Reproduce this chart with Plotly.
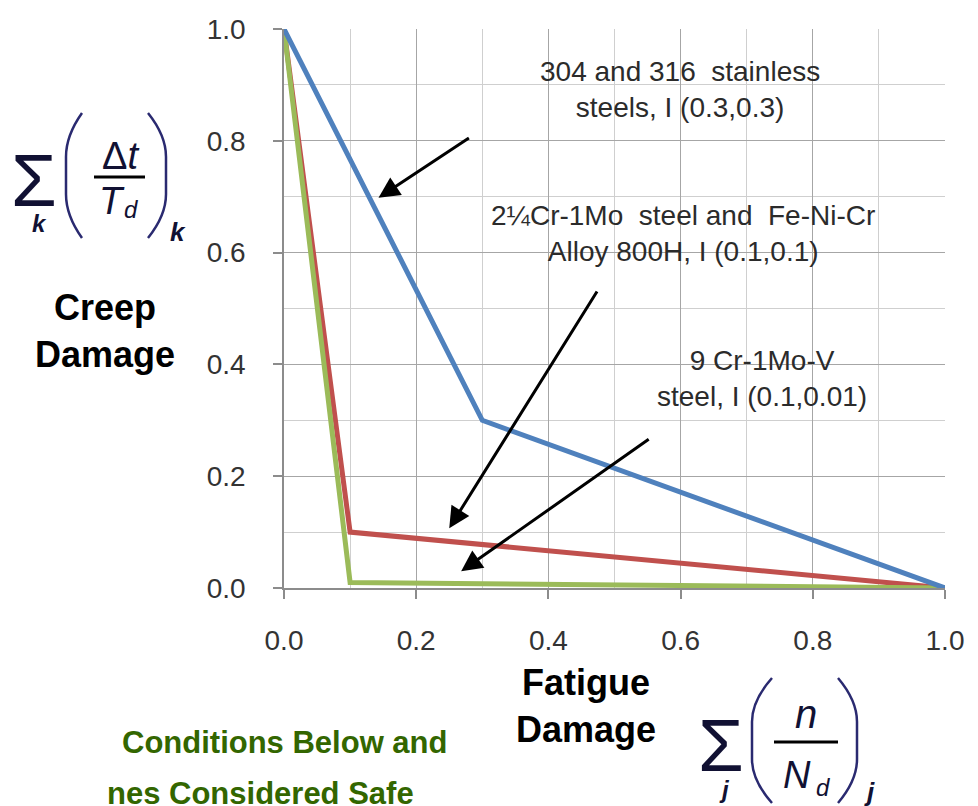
import plotly.graph_objects as go

# ---- data ----
series_names = ["2¼Cr-1Mo steel and Fe-Ni-Cr Alloy 800H", "9 Cr-1Mo-V steel", "304 and 316 stainless steels"]
fatigue_red = [0.0, 0.1, 1.0]
creep_red = [1.0, 0.1, 0.0]
fatigue_green = [0.0, 0.1, 1.0]
creep_green = [1.0, 0.01, 0.0]
fatigue_blue = [0.0, 0.3, 1.0]
creep_blue = [1.0, 0.3, 0.0]
tick_vals = [0.0, 0.2, 0.4, 0.6, 0.8, 1.0]
tick_text = ["0.0", "0.2", "0.4", "0.6", "0.8", "1.0"]

W, H = 978, 806
L, R, T, B = 284, 945, 29, 588  # plot area pixel box


def px(x):
    return (x - L) / (R - L)


def py(y):
    return (B - y) / (B - T)


SANS = "Liberation Sans, Arial, sans-serif"

fig = go.Figure()
fig.add_trace(go.Scatter(x=fatigue_red, y=creep_red, mode="lines", name=series_names[0],
                         line=dict(color="#c0504d", width=5)))
fig.add_trace(go.Scatter(x=fatigue_green, y=creep_green, mode="lines", name=series_names[1],
                         line=dict(color="#9bbb59", width=5)))
fig.add_trace(go.Scatter(x=fatigue_blue, y=creep_blue, mode="lines", name=series_names[2],
                         line=dict(color="#4f81bd", width=5)))

axis_common = dict(
    range=[0, 1], tickvals=tick_vals, ticktext=tick_text,
    showgrid=True, gridcolor="#a6a6a6", gridwidth=1,
    minor=dict(dtick=0.1, showgrid=True, gridcolor="#cfcfcf", gridwidth=1, ticks=""),
    showline=True, linecolor="#8c8c8c", linewidth=1.5,
    ticks="outside", ticklen=9, tickcolor="#8c8c8c", tickwidth=1.5,
    tickfont=dict(family=SANS, size=28, color="#333333"),
    zeroline=False, fixedrange=True,
)
fig.update_xaxes(**axis_common, ticklabelstandoff=18)
fig.update_yaxes(**axis_common, ticklabelstandoff=22)

ann = []


def note(x, y, text, font, xanchor="center", yanchor="middle", align="center"):
    ann.append(dict(x=px(x), y=py(y), xref="paper", yref="paper", showarrow=False,
                    text=text, font=font, align=align, xanchor=xanchor, yanchor=yanchor))


# text labels with arrows
txt_font = dict(family=SANS, size=28, color="#2b2b2b")
note(680, 89, "304 and 316  stainless<br>steels, I (0.3,0.3)", txt_font)
note(683, 234, "2¼Cr-1Mo  steel and  Fe-Ni-Cr<br>Alloy 800H, I (0.1,0.1)", txt_font)
note(762, 378, "9 Cr-1Mo-V<br>steel, I (0.1,0.01)", txt_font)

arrows = [((0.143, 0.698), (0.282, 0.807)),
          ((0.250, 0.107), (0.475, 0.533)),
          ((0.268, 0.030), (0.554, 0.268))]
for (hx, hy), (tx, ty) in arrows:
    ann.append(dict(x=hx, y=hy, ax=tx, ay=ty, xref="x", yref="y", axref="x", ayref="y",
                    text="", showarrow=True, arrowhead=2, arrowsize=1.4, arrowwidth=3,
                    arrowcolor="#000000"))

# axis captions
cap_font = dict(family=SANS, size=36, color="#000000", weight="bold")
note(105, 331, "Creep<br>Damage", cap_font)
note(586, 706, "Fatigue<br>Damage", cap_font)

# green caption (cut off at the page edges)
green_font = dict(family=SANS, size=31, color="#336600", weight="bold")
note(120, 742, "Conditions Below and", green_font, xanchor="left")
note(105, 793, "nes Considered Safe", green_font, xanchor="left")

# formulas
F = "#111133"
it = dict(family=SANS, color=F, style="italic")


def glyph(x, y, text, size, **kw):
    f = dict(it)
    f["size"] = size
    f.update(kw)
    note(x, y, text, f)


shapes = []


def paren(x0, x1, y0, y1, left=True):
    # x0..x1 horizontal extent, y0 top, y1 bottom (pixels)
    xo, xi = (x1, x0) if left else (x0, x1)
    a, b = px(xo), px(xi)
    yt, yb = py(y0), py(y1)
    h = yt - yb
    path = (f"M {a},{yt} Q {b},{yt - 0.18 * h} {b},{yt - 0.35 * h} "
            f"L {b},{yb + 0.35 * h} Q {b},{yb + 0.18 * h} {a},{yb}")
    shapes.append(dict(type="path", xref="paper", yref="paper", path=path,
                       line=dict(color="#2a2a70", width=2.5)))


def hline(x0, x1, y):
    shapes.append(dict(type="line", xref="paper", yref="paper", x0=px(x0), x1=px(x1),
                       y0=py(y), y1=py(y), line=dict(color="#000000", width=3)))


# creep formula
glyph(34, 180, "Σ", 74, style="normal")
glyph(39, 224, "k", 24, weight="bold")
paren(66, 82, 113, 238, left=True)
glyph(120, 156, "Δ<i>t</i>", 38, style="normal")
hline(94, 145, 177)
glyph(112, 201, "T", 38)
glyph(131, 209, "d", 24)
paren(148, 166, 113, 238, left=False)
glyph(178, 232, "k", 26, weight="bold")

# fatigue formula
glyph(721, 745, "Σ", 74, style="normal")
glyph(724, 789, "j", 24, weight="bold")
paren(752, 772, 678, 803, left=True)
glyph(806, 714, "n", 40)
hline(774, 838, 742)
glyph(797, 775, "N", 38)
glyph(823, 787, "d", 24)
paren(838, 857, 678, 803, left=False)
glyph(869, 792, "j", 26, weight="bold")

fig.update_layout(
    width=W, height=H,
    margin=dict(l=L, r=W - R, t=T, b=H - B),
    paper_bgcolor="white", plot_bgcolor="white",
    showlegend=False,
    annotations=ann, shapes=shapes,
)

fig.write_html("out.html")
